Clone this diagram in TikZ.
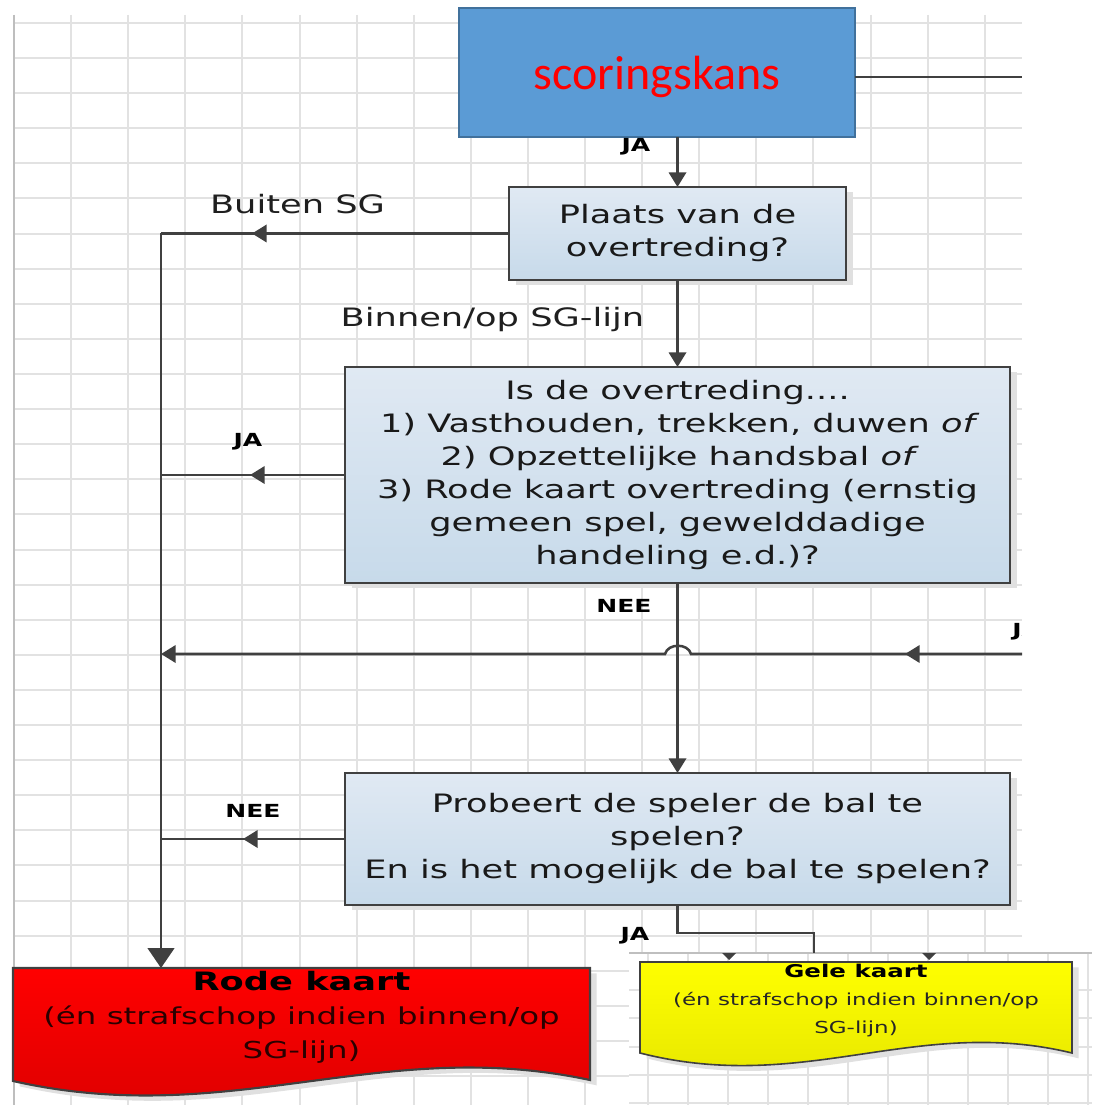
\documentclass[tikz,border=0pt]{standalone}
\usepackage{fontspec}
\usetikzlibrary{arrows.meta,shadows,decorations.markings}
\newfontfamily\dvfont[FakeStretch=1.39]{DejaVu Sans}
\newfontfamily\carfont{Carlito}
\definecolor{lineg}{HTML}{404040}
\definecolor{gridg}{HTML}{E2E2E2}
\definecolor{gridd}{HTML}{BEBEBE}
\definecolor{boxtop}{HTML}{E0E9F3}
\definecolor{boxbot}{HTML}{C7DAEA}
\definecolor{scorfill}{HTML}{5B9BD5}
\definecolor{scorline}{HTML}{41719C}
\definecolor{redtop}{HTML}{FF0000}
\definecolor{redbot}{HTML}{DA0000}
\definecolor{yeltop}{HTML}{FFFF00}
\definecolor{yelbot}{HTML}{E4E400}
\definecolor{subred}{HTML}{2A0000}
\begin{document}
\begin{tikzpicture}[x=0.75pt,y=-0.75pt,
  gridl/.style={draw=gridg, line width=1.5pt},
  qbox/.style={draw=lineg, line width=2pt, top color=boxtop, bottom color=boxbot,
    align=center, inner sep=0pt, outer sep=0pt,
    font=\dvfont\fontsize{19}{24.75}\selectfont, text=black!90,
    drop shadow={shadow xshift=5pt, shadow yshift=-3.5pt, fill=black!12, opacity=1}},
  conn/.style={draw=lineg, line width=1.9pt},
  tipend/.style={-{Triangle[length=11pt,width=13pt]}},
  bigtip/.style={-{Triangle[length=15pt,width=20pt]}},
  midarrow/.style={postaction={decorate}, decoration={markings,
    mark=at position #1 with {\arrow{Triangle[length=11pt,width=13pt]}}}},
  lbl/.style={font=\dvfont\fontsize{19}{22}\selectfont, text=black!88, inner sep=0pt},
  yn/.style={font=\dvfont\bfseries\fontsize{13.5}{15}\selectfont, text=black, inner sep=0pt},
  cardshadow/.style={drop shadow={shadow xshift=5pt, shadow yshift=-4pt, fill=black!12, opacity=1}},
]
\useasboundingbox (0,0) rectangle (1092,1105);
\fill[white] (0,0) rectangle (1092,1105);

% main grid
\foreach \i in {1,...,17} \draw[gridl] ({14+57.1*\i},15) -- ({14+57.1*\i},1105);
\foreach \j in {0,...,30} \draw[gridl] (14,{23+35.1*\j}) -- (1022,{23+35.1*\j});
\draw[draw=gridd, line width=2.2pt] (14,15) -- (14,1105);

% inset (bottom right) with its own grid
\fill[white] (629,953) rectangle (1092,1105);
\foreach \i in {0,...,11} \draw[draw=gridg, line width=1.3pt] ({648+40*\i},953) -- ({648+40*\i},1105);
\foreach \y in {990,1018,1047,1075,1103} \draw[draw=gridg, line width=1.3pt] (629,\y) -- (1092,\y);
\draw[draw=black!25, line width=1.3pt] (629,953) -- (1092,953);

% boxes
\node[draw=scorline, line width=1.5pt, fill=scorfill, minimum width=297pt, minimum height=96.75pt,
  inner sep=0pt, outer sep=0pt, text=red, font=\carfont\fontsize{36}{40}\selectfont,
  text height=26pt, text depth=0pt]
  (scor) at (657,72.5) {scoringskans};
\node[qbox, minimum width=252.75pt, minimum height=69.75pt] (plaats) at (677.5,233.5)
  {Plaats van de\\overtreding?};
\node[qbox, minimum width=498.75pt, minimum height=162pt] (isde) at (677.5,475)
  {Is de overtreding....\\1) Vasthouden, trekken, duwen {\itshape of}\\2) Opzettelijke handsbal {\itshape of}\\3) Rode kaart overtreding (ernstig\\gemeen spel, gewelddadige\\handeling e.d.)?};
\node[qbox, minimum width=498.75pt, minimum height=99pt] (probeert) at (677.5,839)
  {Probeert de speler de bal te\\spelen?\\En is het mogelijk de bal te spelen?};

% cards
\path[draw=lineg, line width=1.6pt, top color=redtop, bottom color=redbot, cardshadow]
  (13,968) -- (590,968) -- (590,1080) .. controls (380,1035) and (230,1130) .. (13,1081) -- cycle;
\coordinate (rodetop) at (301.5,968);
\node[align=center, inner sep=0pt, text=subred, font=\dvfont\fontsize{17.5}{25.5}\selectfont]
  (rode) at (301.5,1017)
  {{\color{black}\bfseries\fontsize{19}{25.5}\selectfont Rode kaart}\\(én strafschop indien binnen/op\\SG-lijn)};

\path[draw=lineg, line width=1.2pt, top color=yeltop, bottom color=yelbot, cardshadow]
  (640,962) -- (1072,962) -- (1072,1053) .. controls (915,1015) and (805,1095) .. (640,1053) -- cycle;
\node[align=center, inner sep=0pt, text=black!85, font=\dvfont\fontsize{12.4}{21}\selectfont]
  (gele) at (856,1001)
  {{\color{black}\bfseries\fontsize{13.2}{21}\selectfont Gele kaart}\\(én strafschop indien binnen/op\\SG-lijn)};
\fill[lineg] (722,953) -- (736,953) -- (729,960) -- cycle;
\fill[lineg] (922,953) -- (936,953) -- (929,960) -- cycle;

% coordinates
\coordinate (trunk) at (161,233.5);
\coordinate (scorR) at (1022,77);
\coordinate (jaright) at (1022,654);
\coordinate (hopR) at (691,654);
\coordinate (hopL) at (665,654);
\coordinate (jaturn) at (814,933);
\coordinate (gelecut) at (814,953);

% connectors
\draw[draw=lineg, line width=1.5pt] (scorR -| scor.east) -- (scorR);
\draw[conn, tipend] (scor.south -| plaats.north) -- (plaats.north);
\draw[conn, midarrow=192.75pt] (plaats.west) -- (trunk);
\draw[conn, bigtip] (trunk) -- (trunk |- rodetop);
\draw[conn, tipend] (plaats.south) -- (isde.north);
\draw[conn, midarrow=71.25pt] (isde.west) -- (isde.west -| trunk);
\draw[conn, tipend] (isde.south) -- (probeert.north);
\draw[conn, midarrow=76.5pt] (probeert.west) -- (probeert.west -| trunk);
\draw[conn, tipend, midarrow=87.75pt] (jaright) -- (hopR) .. controls (688,643) and (668,643) .. (hopL) -- (jaright -| trunk);
\draw[conn] (probeert.south) |- (jaturn) -- (gelecut);

% labels
\node[yn] (la1) at (636,147) {JA};
\node[lbl] (la2) at (297.5,204.5) {Buiten SG};
\node[lbl] (la3) at (492.5,320) {Binnen/op SG-lijn};
\node[yn] (la4) at (248,442) {JA};
\node[yn] (la5) at (624,606) {NEE};
\node[yn] (la6) at (253,811) {NEE};
\node[yn] (la7) at (635,936) {JA};
\begin{scope}
  \clip (990,600) rectangle (1021,660);
  \node[yn, anchor=west] (la8) at (1012,632) {JA};
\end{scope}
\end{tikzpicture}
\end{document}
